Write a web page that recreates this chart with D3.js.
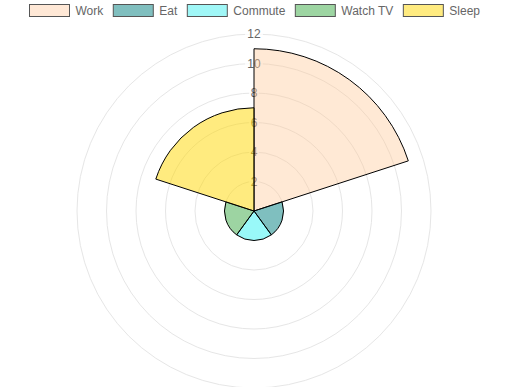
<!DOCTYPE html>
<html>
<head>
<meta charset="utf-8">
<script src="https://cdn.jsdelivr.net/npm/d3@7/dist/d3.min.js"></script>
<style>
  body { margin: 0; background: #fff; }
  svg { display: block; font-family: "Liberation Sans", Arial, sans-serif; }
</style>
</head>
<body>
<div id="chartDiv"></div>
<script>
// chart data
const categories = ["Work", "Eat", "Commute", "Watch TV", "Sleep"];
const hours = [11, 2, 2, 2, 7];
const fills = ["rgba(255,200,150,0.4)", "rgba(0,128,128,0.5)", "rgba(0,240,240,0.4)",
               "rgba(60,170,70,0.5)", "rgba(255,215,0,0.5)"];
const legendFills = ["#ffe8d6", "#80bfbf", "#a0f7f7", "#9dd5a2", "#ffeb80"];
const tickValues = [2, 4, 6, 8, 10, 12];

const width = 509, height = 387;
const cx = 254, cy = 211, outer = 177;

const svg = d3.select("#chartDiv")
    .append("svg")
    .attr("width", width)
    .attr("height", height);

const r = d3.scaleLinear().domain([0, 12]).range([0, outer]);

// grid circles
const g = svg.append("g").attr("transform", "translate(" + cx + "," + cy + ")");
g.selectAll("circle.grid")
    .data(tickValues)
    .enter()
    .append("circle")
    .attr("r", d => r(d))
    .attr("fill", "none")
    .attr("stroke", "#e6e6e6")
    .attr("stroke-width", 1);

// tick labels with backdrop (drawn under the data, like the original)
const ticks = g.selectAll("g.tick")
    .data(tickValues)
    .enter()
    .append("g")
    .attr("transform", d => "translate(0," + (-r(d)) + ")");
ticks.append("rect")
    .attr("x", d => d >= 10 ? -9 : -5)
    .attr("y", -8)
    .attr("width", d => d >= 10 ? 18 : 10)
    .attr("height", 16)
    .attr("fill", "rgba(255,255,255,0.75)");
ticks.append("text")
    .attr("text-anchor", "middle")
    .attr("dy", "0.36em")
    .attr("font-size", 12)
    .attr("fill", "#666")
    .text(d => d);

// segments
const step = 2 * Math.PI / categories.length;
const arc = d3.arc()
    .innerRadius(0)
    .outerRadius((d, i) => r(d))
    .startAngle((d, i) => i * step)
    .endAngle((d, i) => (i + 1) * step);

g.selectAll("path.seg")
    .data(hours)
    .enter()
    .append("path")
    .attr("d", (d, i) => arc(d, i))
    .attr("fill", (d, i) => fills[i])
    .attr("stroke", "#000")
    .attr("stroke-width", 1)
    .attr("stroke-linejoin", "round");

// legend
const legend = svg.append("g");
const items = legend.selectAll("g.item")
    .data(categories)
    .enter()
    .append("g");
items.append("rect")
    .attr("width", 40)
    .attr("height", 12)
    .attr("y", 4.5)
    .attr("fill", (d, i) => legendFills[i])
    .attr("stroke", "#555")
    .attr("stroke-width", 1);
items.append("text")
    .attr("x", 46)
    .attr("y", 15)
    .attr("font-size", 12)
    .attr("fill", "#666")
    .text(d => d);

let widths = [];
items.each(function () {
    widths.push(40 + 6 + d3.select(this).select("text").node().getComputedTextLength());
});
const total = d3.sum(widths) + 10 * (widths.length - 1);
let x0 = Math.round((width - total) / 2) + 0.5;
items.attr("transform", (d, i) => {
    const t = "translate(" + x0 + ",0)";
    x0 += widths[i] + 10;
    return t;
});
</script>
</body>
</html>
